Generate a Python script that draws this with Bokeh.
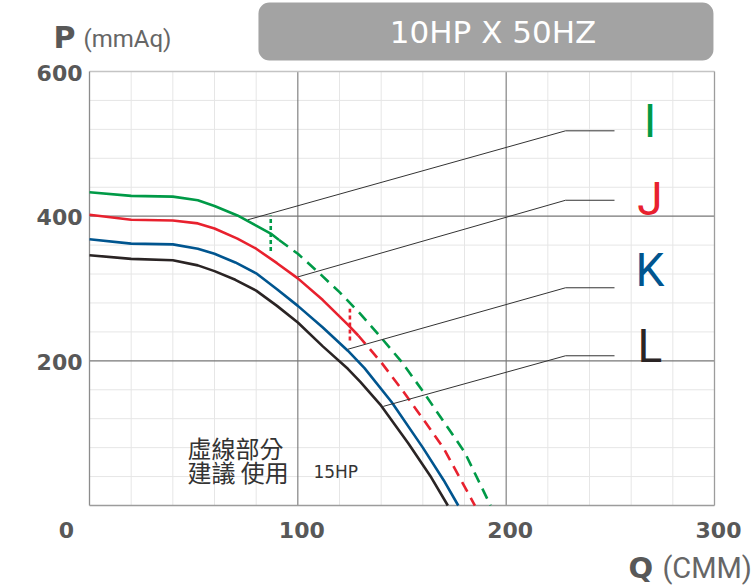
from bokeh.plotting import figure
from bokeh.models import Range1d
from bokeh.core.properties import value
from bokeh.embed import file_html
from bokeh.resources import INLINE

# ---------------- data ----------------
# Curve I (green): solid part and dashed (15HP) part
i_solid_q = [0, 20, 40, 52, 60, 71, 80, 87, 91]
i_solid_p = [433, 428, 427, 422, 414, 401, 387, 376, 367]
i_dash_q = [91, 100, 110, 120, 130, 140, 150, 160, 170, 180, 192.5]
i_dash_p = [367, 348, 322, 295, 265, 232, 198, 158, 116, 74, 0]

# Curve J (red)
j_solid_q = [0, 20, 40, 52, 60, 71, 80, 90, 100, 112, 124, 129]
j_solid_p = [402, 395, 394, 390, 383, 369, 355, 335, 314, 284, 250, 235]
j_dash_q = [129, 140, 150, 160, 170, 185]
j_dash_p = [235, 198, 160, 120, 79, 0]

# Curve K (blue)
k_q = [0, 20, 40, 52, 60, 70, 80, 90, 100, 112, 124, 132, 145, 160, 170, 177]
k_p = [368, 362, 361, 355, 348, 336, 321, 299, 276, 246, 214, 190, 143, 80, 35, 0]

# Curve L (black)
l_q = [0, 20, 40, 52, 60, 70, 80, 90, 100, 112, 124, 130, 140, 153, 164, 172]
l_p = [346, 341, 339, 332, 324, 312, 297, 276, 253, 220, 189, 171, 138, 86, 39, 0]

# vertical dashed markers (limit of 10HP use)
mark_i_q = [87, 87]
mark_i_p = [352, 401]
mark_j_q = [125, 125]
mark_j_p = [228, 272]

# leader lines to the curve names
lead_i_q = [76, 228.5, 252]
lead_i_p = [395, 518, 518]
lead_j_q = [100, 228.5, 252]
lead_j_p = [316, 422, 422]
lead_k_q = [124, 228.5, 252]
lead_k_p = [216, 301, 301]
lead_l_q = [141, 228.5, 252]
lead_l_p = [137, 207, 207]

names = ["I", "J", "K", "L"]
name_q = [269, 269, 269, 269]
name_p = [531, 424, 325, 220]

x_min, x_max = 0, 300
y_min, y_max = 0, 600
x_ticks = [100, 200, 300]
x_tick_labels = ["100", "200", "300"]
y_ticks = [200, 400, 600]
y_tick_labels = ["200", "400", "600"]
x_major_grid = [100, 200]
x_minor_grid = [20, 40, 60, 80, 120, 140, 160, 180, 220, 240, 260, 280]
y_major_grid = [200, 400]
y_minor_grid = [40, 80, 120, 160, 240, 280, 320, 360, 440, 480, 520, 560]

title_text = "10HP X 50HZ"
y_title_main, y_title_unit = "P", "(mmAq)"
x_title_main, x_title_unit = "Q", "(CMM)"
note_line1 = "虛線部分"
note_line2 = "建議 使用"
note_hp = "15HP"

GREEN = "#009a47"
RED = "#e8212e"
BLUE = "#00558f"
BLACK = "#2a2424"
TICK = "#585858"

# ---------------- figure ----------------
# the frame spans the whole canvas; the plot box [0,300]x[0,600] sits inside it
p = figure(width=755, height=586, output_backend="svg", toolbar_location=None,
           x_range=Range1d(-42.72, 319.68), y_range=Range1d(-111.98, 698.16),
           x_axis_type=None, y_axis_type=None, min_border=0)
p.outline_line_color = None
p.background_fill_color = "white"
p.border_fill_color = "white"

# grid
p.segment(x0=x_minor_grid, y0=[y_min] * len(x_minor_grid), x1=x_minor_grid,
          y1=[y_max] * len(x_minor_grid), line_color="#e6e6e6", line_width=1)
p.segment(x0=[x_min] * len(y_minor_grid), y0=y_minor_grid, x1=[x_max] * len(y_minor_grid),
          y1=y_minor_grid, line_color="#e6e6e6", line_width=1)
p.segment(x0=x_major_grid, y0=[y_min] * len(x_major_grid), x1=x_major_grid,
          y1=[y_max] * len(x_major_grid), line_color="#777777", line_width=1.1)
p.segment(x0=[x_min] * len(y_major_grid), y0=y_major_grid, x1=[x_max] * len(y_major_grid),
          y1=y_major_grid, line_color="#777777", line_width=1.1)
# plot box
p.segment(x0=[x_min], y0=[y_max], x1=[x_max], y1=[y_max], line_color="#c4c4c4", line_width=1.3)
p.segment(x0=[x_max], y0=[y_min], x1=[x_max], y1=[y_max], line_color="#9c9c9c", line_width=1.3)
p.segment(x0=[x_min], y0=[y_min], x1=[x_min], y1=[y_max], line_color="#8c8c8c", line_width=1.3)
p.segment(x0=[x_min], y0=[y_min], x1=[x_max], y1=[y_min], line_color="#9c9c9c", line_width=1.3)

# tick labels
p.text(x=[x_min] * len(y_ticks), y=y_ticks, text=y_tick_labels, x_offset=-7, y_offset=1,
       text_font=value("DejaVu Sans"), text_font_style="bold", text_font_size="22px",
       text_color=TICK, text_align="right", text_baseline="middle")
p.text(x=x_ticks, y=[y_min] * len(x_ticks), text=x_tick_labels, x_offset=4, y_offset=24,
       text_font=value("DejaVu Sans"), text_font_style="bold", text_font_size="22px",
       text_color=TICK, text_align="center", text_baseline="middle")
p.text(x=[x_min], y=[y_min], text=["0"], x_offset=-23, y_offset=24,
       text_font=value("DejaVu Sans"), text_font_style="bold", text_font_size="22px",
       text_color=TICK, text_align="center", text_baseline="middle")

# curves
lw = 2.6
p.line(i_solid_q, i_solid_p, line_color=GREEN, line_width=lw)
p.line(i_dash_q, i_dash_p, line_color=GREEN, line_width=lw, line_dash="11 7")
p.line(j_solid_q, j_solid_p, line_color=RED, line_width=lw)
p.line(j_dash_q, j_dash_p, line_color=RED, line_width=lw, line_dash="11 7")
p.line(k_q, k_p, line_color=BLUE, line_width=lw)
p.line(l_q, l_p, line_color=BLACK, line_width=lw)

p.line(mark_i_q, mark_i_p, line_color=GREEN, line_width=2.6, line_dash="4 3")
p.line(mark_j_q, mark_j_p, line_color=RED, line_width=2.6, line_dash="4 3")

for lq, lp in ((lead_i_q, lead_i_p), (lead_j_q, lead_j_p),
               (lead_k_q, lead_k_p), (lead_l_q, lead_l_p)):
    p.line(lq, lp, line_color="#333333", line_width=1)

p.text(x=name_q, y=name_p, text=names,
       text_color=[GREEN, RED, BLUE, BLACK],
       text_font=value("Roboto"), text_font_size="46px",
       text_align="center", text_baseline="middle")

# note inside plot
p.text(x=[47], y=[80.5], text=[note_line1], text_font=value("Noto Sans CJK TC"),
       text_font_size="24px", text_color="#333333", text_baseline="middle")
p.text(x=[47], y=[47], text=[note_line2], text_font=value("Noto Sans CJK TC"),
       text_font_size="24px", text_color="#333333", text_baseline="middle")
p.text(x=[107.5], y=[46.5], text=[note_hp], text_font=value("DejaVu Sans"),
       text_font_size="17px", text_color="#333333", text_baseline="middle")

# title box
p.quad(left=[81.1], right=[299.5], bottom=[615.2], top=[695.4],
       fill_color="#a3a3a3", line_color=None, border_radius=11)
p.text(x=[193.7], y=[654], text=[title_text], text_font=value("DejaVu Sans"),
       text_font_size="31px", text_color="white", text_align="center",
       text_baseline="middle")

# axis titles
p.text(x=[-17.3], y=[647.5], text=[y_title_main], text_font=value("DejaVu Sans"),
       text_font_style="bold", text_font_size="30px", text_color=TICK,
       text_baseline="middle")
p.text(x=[-2.9], y=[645.5], text=[y_title_unit], text_font=value("Roboto"),
       text_font_size="24px", text_color="#666666", text_baseline="middle")
p.text(x=[258.7], y=[-86.5], text=[x_title_main], text_font=value("DejaVu Sans"),
       text_font_style="bold", text_font_size="29px", text_color=TICK,
       text_baseline="middle")
p.text(x=[275.0], y=[-86.5], text=[x_title_unit], text_font=value("Roboto"),
       text_font_size="29px", text_color="#666666", text_baseline="middle")

open("out.html", "w").write(file_html(p, INLINE))
